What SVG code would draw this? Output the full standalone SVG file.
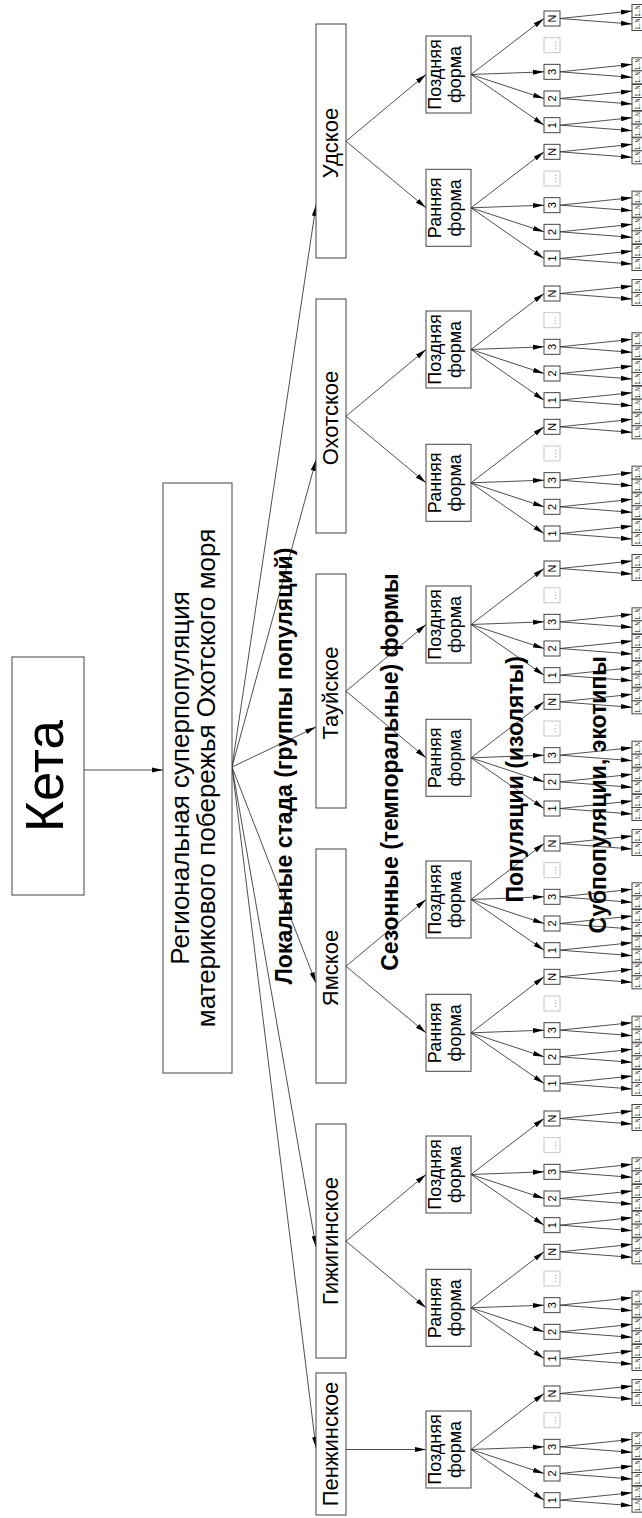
<svg xmlns="http://www.w3.org/2000/svg" xmlns:xlink="http://www.w3.org/1999/xlink" width="642" height="1518" viewBox="0 0 642 1518">
<defs>
<style>
.box{fill:#fff;stroke:#444;stroke-width:1}
.t{font-family:"Liberation Sans",Arial,sans-serif;fill:#000;text-anchor:middle}
.b{font-weight:bold}
.e{stroke:#222;stroke-width:0.8;fill:none;marker-end:url(#ah)}
</style>
<marker id="ah" markerUnits="userSpaceOnUse" markerWidth="11" markerHeight="6" refX="11" refY="3" orient="auto"><path d="M0,0.5 L11,3 L0,5.5 z" fill="#000"/></marker>
<g id="lv" font-family="Liberation Sans, Arial, sans-serif" text-anchor="middle">
  <g fill="#fff" stroke="#444" stroke-width="1">
    <rect x="544" y="-7.5" width="16" height="15"/>
    <rect x="544" y="45.83" width="16" height="15"/>
    <rect x="544" y="72.5" width="16" height="15"/>
    <rect x="544" y="99.17" width="16" height="15"/>
    <rect x="632" y="-14" width="11" height="13"/><rect x="632" y="-1" width="11" height="13"/>
    <rect x="632" y="39.33" width="11" height="13"/><rect x="632" y="52.33" width="11" height="13"/>
    <rect x="632" y="66" width="11" height="13"/><rect x="632" y="79" width="11" height="13"/>
    <rect x="632" y="92.67" width="11" height="13"/><rect x="632" y="105.67" width="11" height="13"/>
  </g>
  <rect x="544" y="19.17" width="16" height="15" fill="#fff" stroke="#c8c8c8" stroke-width="1"/>
  <g font-size="11" fill="#000">
    <text transform="translate(556,0) rotate(-90)">N</text>
    <text transform="translate(556,53.33) rotate(-90)">3</text>
    <text transform="translate(556,80) rotate(-90)">2</text>
    <text transform="translate(556,106.67) rotate(-90)">1</text>
  </g>
  <text font-size="11" fill="#aaa" transform="translate(556,26.67) rotate(-90)">...</text>
  <g font-size="7" fill="#000">
    <text transform="translate(640,-7.5) rotate(-90)" textLength="11" lengthAdjust="spacingAndGlyphs">1...N</text>
    <text transform="translate(640,5.5) rotate(-90)" textLength="11" lengthAdjust="spacingAndGlyphs">1...N</text>
    <text transform="translate(640,45.83) rotate(-90)" textLength="11" lengthAdjust="spacingAndGlyphs">1...N</text>
    <text transform="translate(640,58.83) rotate(-90)" textLength="11" lengthAdjust="spacingAndGlyphs">1...N</text>
    <text transform="translate(640,72.5) rotate(-90)" textLength="11" lengthAdjust="spacingAndGlyphs">1...N</text>
    <text transform="translate(640,85.5) rotate(-90)" textLength="11" lengthAdjust="spacingAndGlyphs">1...N</text>
    <text transform="translate(640,99.17) rotate(-90)" textLength="11" lengthAdjust="spacingAndGlyphs">1...N</text>
    <text transform="translate(640,112.17) rotate(-90)" textLength="11" lengthAdjust="spacingAndGlyphs">1...N</text>
  </g>
</g>
<g id="le" stroke="#222" stroke-width="0.8" fill="none" marker-end="url(#ah)">
  <path d="M471,56 L544,0"/>
  <path d="M471,56 L544,53.33"/>
  <path d="M471,56 L544,80"/>
  <path d="M471,56 L544,106.67"/>
  <path d="M560,0 L632,-7.5"/><path d="M560,0 L632,5.5"/>
  <path d="M560,53.33 L632,45.83"/><path d="M560,53.33 L632,58.83"/>
  <path d="M560,80 L632,72.5"/><path d="M560,80 L632,85.5"/>
  <path d="M560,106.67 L632,99.17"/><path d="M560,106.67 L632,112.17"/>
</g>
</defs>
<rect width="642" height="1518" fill="#fff"/>

<g id="connectors">
  <path class="e" d="M84,770 L163,770"/>
  <path class="e" d="M232,767 L316,205"/>
  <path class="e" d="M232,767 L316,460"/>
  <path class="e" d="M232,767 L316,727"/>
  <path class="e" d="M232,767 L316,983"/>
  <path class="e" d="M232,767 L316,1247"/>
  <path class="e" d="M232,767 L316,1448"/>
  <path class="e" d="M346,141.2 L426,74.5"/><path class="e" d="M346,141.2 L426,207.8"/>
  <path class="e" d="M346,416.2 L426,349.5"/><path class="e" d="M346,416.2 L426,482.8"/>
  <path class="e" d="M346,691.2 L426,624.5"/><path class="e" d="M346,691.2 L426,757.8"/>
  <path class="e" d="M346,966.2 L426,899.5"/><path class="e" d="M346,966.2 L426,1032.8"/>
  <path class="e" d="M346,1241.2 L426,1174.5"/><path class="e" d="M346,1241.2 L426,1307.8"/>
  <path class="e" d="M346,1449.5 L426,1449.5"/>
  <use xlink:href="#le" href="#le" y="18.5"/>
  <use xlink:href="#le" href="#le" y="151.83"/>
  <use xlink:href="#le" href="#le" y="293.5"/>
  <use xlink:href="#le" href="#le" y="426.83"/>
  <use xlink:href="#le" href="#le" y="568.5"/>
  <use xlink:href="#le" href="#le" y="701.83"/>
  <use xlink:href="#le" href="#le" y="843.5"/>
  <use xlink:href="#le" href="#le" y="976.83"/>
  <use xlink:href="#le" href="#le" y="1118.5"/>
  <use xlink:href="#le" href="#le" y="1251.83"/>
  <use xlink:href="#le" href="#le" y="1393.5"/>
</g>

<g id="keta"><rect class="box" x="12" y="657" width="72" height="238"/>
  <text class="t" font-size="53" transform="translate(63,776) rotate(-90)">Кета</text></g>
<g id="superpop"><rect class="box" x="163" y="483" width="69" height="590"/>
  <text class="t" font-size="26" transform="translate(189,778) rotate(-90)">Региональная суперпопуляция</text>
  <text class="t" font-size="26" transform="translate(215,778) rotate(-90)">материкового побережья Охотского моря</text></g>

<g id="s-udskoe"><rect class="box" x="316" y="24" width="30" height="234"/><text class="t" font-size="22" transform="translate(338,143) rotate(-90)">Удское</text></g>
<g id="s-okhotskoe"><rect class="box" x="316" y="299" width="30" height="234"/><text class="t" font-size="22" transform="translate(338,418) rotate(-90)">Охотское</text></g>
<g id="s-tauyskoe"><rect class="box" x="316" y="574" width="30" height="234"/><text class="t" font-size="22" transform="translate(338,693) rotate(-90)">Тауйское</text></g>
<g id="s-yamskoe"><rect class="box" x="316" y="849" width="30" height="234"/><text class="t" font-size="22" transform="translate(338,968) rotate(-90)">Ямское</text></g>
<g id="s-gizhiginskoe"><rect class="box" x="316" y="1124" width="30" height="234"/><text class="t" font-size="22" transform="translate(338,1241) rotate(-90)">Гижигинское</text></g>
<g id="s-penzhinskoe"><rect class="box" x="316" y="1373" width="30" height="142"/><text class="t" font-size="22" transform="translate(338,1444) rotate(-90)">Пенжинское</text></g>

<g id="f-ud-late"><rect class="box" x="426" y="36" width="45" height="77"/><text class="t" font-size="18" transform="translate(441,74.5) rotate(-90)">Поздняя</text><text class="t" font-size="18" transform="translate(461,74.5) rotate(-90)">форма</text></g>
<g id="f-ud-early"><rect class="box" x="426" y="169.3" width="45" height="77"/><text class="t" font-size="18" transform="translate(441,207.8) rotate(-90)">Ранняя</text><text class="t" font-size="18" transform="translate(461,207.8) rotate(-90)">форма</text></g>
<g id="f-ok-late"><rect class="box" x="426" y="311" width="45" height="77"/><text class="t" font-size="18" transform="translate(441,349.5) rotate(-90)">Поздняя</text><text class="t" font-size="18" transform="translate(461,349.5) rotate(-90)">форма</text></g>
<g id="f-ok-early"><rect class="box" x="426" y="444.3" width="45" height="77"/><text class="t" font-size="18" transform="translate(441,482.8) rotate(-90)">Ранняя</text><text class="t" font-size="18" transform="translate(461,482.8) rotate(-90)">форма</text></g>
<g id="f-ta-late"><rect class="box" x="426" y="586" width="45" height="77"/><text class="t" font-size="18" transform="translate(441,624.5) rotate(-90)">Поздняя</text><text class="t" font-size="18" transform="translate(461,624.5) rotate(-90)">форма</text></g>
<g id="f-ta-early"><rect class="box" x="426" y="719.3" width="45" height="77"/><text class="t" font-size="18" transform="translate(441,757.8) rotate(-90)">Ранняя</text><text class="t" font-size="18" transform="translate(461,757.8) rotate(-90)">форма</text></g>
<g id="f-ya-late"><rect class="box" x="426" y="861" width="45" height="77"/><text class="t" font-size="18" transform="translate(441,899.5) rotate(-90)">Поздняя</text><text class="t" font-size="18" transform="translate(461,899.5) rotate(-90)">форма</text></g>
<g id="f-ya-early"><rect class="box" x="426" y="994.3" width="45" height="77"/><text class="t" font-size="18" transform="translate(441,1032.8) rotate(-90)">Ранняя</text><text class="t" font-size="18" transform="translate(461,1032.8) rotate(-90)">форма</text></g>
<g id="f-gi-late"><rect class="box" x="426" y="1136" width="45" height="77"/><text class="t" font-size="18" transform="translate(441,1174.5) rotate(-90)">Поздняя</text><text class="t" font-size="18" transform="translate(461,1174.5) rotate(-90)">форма</text></g>
<g id="f-gi-early"><rect class="box" x="426" y="1269.3" width="45" height="77"/><text class="t" font-size="18" transform="translate(441,1307.8) rotate(-90)">Ранняя</text><text class="t" font-size="18" transform="translate(461,1307.8) rotate(-90)">форма</text></g>
<g id="f-pe-late"><rect class="box" x="426" y="1411" width="45" height="77"/><text class="t" font-size="18" transform="translate(441,1449.5) rotate(-90)">Поздняя</text><text class="t" font-size="18" transform="translate(461,1449.5) rotate(-90)">форма</text></g>

<g id="populations">
  <use id="p-ud-late" xlink:href="#lv" href="#lv" y="18.5"/>
  <use id="p-ud-early" xlink:href="#lv" href="#lv" y="151.83"/>
  <use id="p-ok-late" xlink:href="#lv" href="#lv" y="293.5"/>
  <use id="p-ok-early" xlink:href="#lv" href="#lv" y="426.83"/>
  <use id="p-ta-late" xlink:href="#lv" href="#lv" y="568.5"/>
  <use id="p-ta-early" xlink:href="#lv" href="#lv" y="701.83"/>
  <use id="p-ya-late" xlink:href="#lv" href="#lv" y="843.5"/>
  <use id="p-ya-early" xlink:href="#lv" href="#lv" y="976.83"/>
  <use id="p-gi-late" xlink:href="#lv" href="#lv" y="1118.5"/>
  <use id="p-gi-early" xlink:href="#lv" href="#lv" y="1251.83"/>
  <use id="p-pe-late" xlink:href="#lv" href="#lv" y="1393.5"/>
</g>

<g id="level-labels">
  <text class="t b" font-size="23" transform="translate(292,766) rotate(-90)">Локальные стада (группы популяций)</text>
  <text class="t b" font-size="23" transform="translate(398,772) rotate(-90)">Сезонные (темпоральные) формы</text>
  <text class="t b" font-size="23" style="text-anchor:end" transform="translate(523,656) rotate(-90)">Популяции (изоляты)</text>
  <text class="t b" font-size="23" style="text-anchor:end" transform="translate(606,656) rotate(-90)">Субпопуляции, экотипы</text>
</g>
</svg>
